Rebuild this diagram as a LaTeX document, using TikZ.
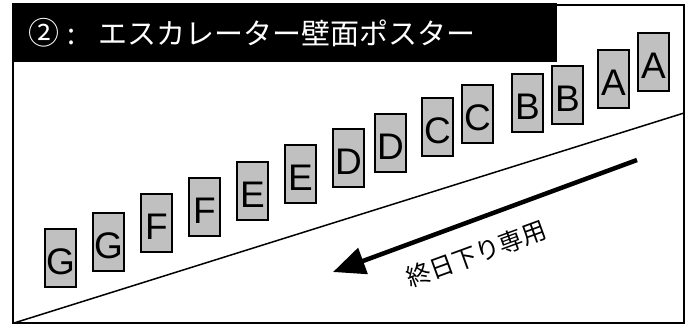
\documentclass[tikz,border=0pt]{standalone}
\usepackage{fontspec}
\setmainfont{Liberation Sans}
\newfontfamily\jpfont{Noto Sans CJK JP}
\usetikzlibrary{arrows.meta}
\definecolor{postergray}{HTML}{C0C0C0}
\tikzset{
  poster/.style={draw=black, line width=2pt, fill=postergray, minimum width=31pt, minimum height=58pt, inner sep=0pt, text height=33pt, text depth=0pt, font=\fontsize{37}{37}\selectfont},
  frameline/.style={draw=black, line width=2pt},
}
\begin{document}
\begin{tikzpicture}[x=1pt, y=-1pt]
\useasboundingbox (0,0) rectangle (693,325);
\draw[frameline] (13,5) rectangle (684,323);
\fill[black] (12,3) rectangle (557,62);
\node[anchor=west, inner sep=0pt, text=white, font=\jpfont\fontsize{29}{29}\selectfont] (title) at (28,33) {\makebox[31pt][c]{\fontsize{31}{31}\selectfont ②}\makebox[24pt][c]{:}\hspace{15pt}エスカレーター壁面ポスター};
\coordinate (lineA) at (14,323);
\coordinate (lineB) at (684,113);
\draw[line width=1.5pt] (lineA) -- (lineB);
\node[poster] (g1) at (60.5,258) {G};
\node[poster] (g2) at (108.5,242) {G};
\node[poster] (f1) at (156.5,223) {F};
\node[poster] (f2) at (204.5,207) {F};
\node[poster] (e1) at (252.5,191) {E};
\node[poster] (e2) at (300.5,174) {E};
\node[poster] (d1) at (348.5,158) {D};
\node[poster] (d2) at (390.5,143) {D};
\node[poster] (c1) at (437.5,127) {C};
\node[poster] (c2) at (477.5,114) {C};
\node[poster] (b1) at (527.5,103) {B};
\node[poster] (b2) at (567.5,95) {B};
\node[poster] (a1) at (613.5,79) {A};
\node[poster] (a2) at (653.5,62) {A};
\coordinate (arrS) at (637,160);
\coordinate (arrE) at (333,272);
\draw[line width=4.5pt, -{Triangle[length=32pt,width=27pt]}] (arrS) -- (arrE);
\node[rotate=20, inner sep=0pt, font=\jpfont\fontsize{24.5}{24.5}\selectfont] (down) at (476,254) {終日下り専用};
\end{tikzpicture}
\end{document}
